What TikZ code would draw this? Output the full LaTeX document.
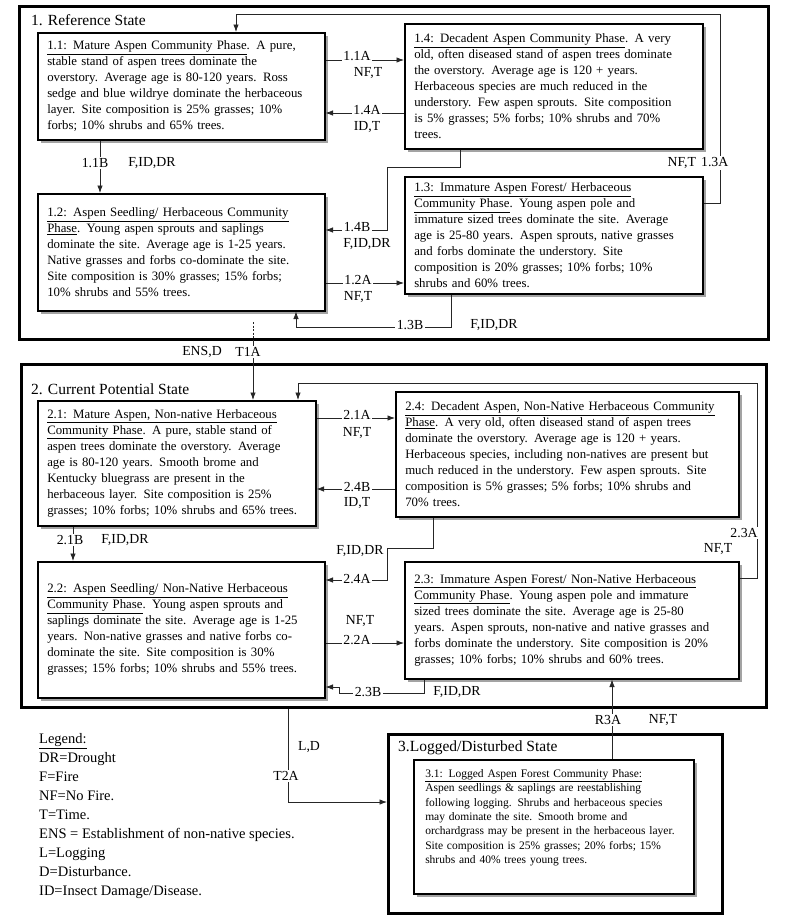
\documentclass[tikz,border=0pt]{standalone}
\usepackage{fontspec}
\setmainfont{Liberation Serif}
\usepackage{tikz}
\usetikzlibrary{arrows.meta,shadows,positioning}

\begin{document}
\begin{tikzpicture}[x=1pt,y=-1pt]

\tikzset{statebox/.style={draw, line width=2.6pt, anchor=north west, inner sep=0pt},
  statetitle/.style={anchor=west, inner sep=0pt, font=\fontsize{15.5}{18}\selectfont},
  phase/.style={draw, line width=1.5pt, fill=white, anchor=north west, align=left,
    inner xsep=9pt, inner ysep=0pt, font=\fontsize{12.8}{16}\selectfont,
    drop shadow={shadow xshift=3pt, shadow yshift=-3pt, fill=black!60, opacity=.6}},
  trans/.style={font=\fontsize{13.8}{15}\selectfont, inner sep=1.5pt},
  cut/.style={trans, fill=white},
  wire/.style={line width=0.8pt, black!85},
  link/.style={wire, -{Latex[length=7.5pt,width=5.5pt]}},
  legend/.style={anchor=north west, align=left, inner sep=0pt, font=\fontsize{14.5}{19}\selectfont}}

\useasboundingbox (0,0) rectangle (800,924);

\node[statebox, minimum width=749pt, minimum height=333pt] (state1) at (18,5) {};
\node[statebox, minimum width=745pt, minimum height=343pt] (state2) at (20,363) {};
\node[statebox, minimum width=334pt, minimum height=179pt] (state3) at (387,733) {};

\node[statetitle] (title1) at (31,20) {1. Reference State};
\node[statetitle] (title2) at (31,389) {2. Current Potential State};
\node[statetitle] (title3) at (398,748) {3.Logged/Disturbed State};

\node[phase, minimum width=287pt, minimum height=107pt, text width=268pt] (b11) at (37,32)
  {\underline{1.1: Mature Aspen Community Phase}. A pure,\\
   stable stand of aspen trees dominate the\\
   overstory. Average age is 80-120 years. Ross\\
   sedge and blue wildrye dominate the herbaceous\\
   layer. Site composition is 25\% grasses; 10\%\\
   forbs; 10\% shrubs and 65\% trees.};
\node[phase, minimum width=298pt, minimum height=125pt, text width=279pt] (b14) at (404,23)
  {\underline{1.4: Decadent Aspen Community Phase}. A very\\
   old, often diseased stand of aspen trees dominate\\
   the overstory. Average age is 120 + years.\\
   Herbaceous species are much reduced in the\\
   understory. Few aspen sprouts. Site composition\\
   is 5\% grasses; 5\% forbs; 10\% shrubs and 70\%\\
   trees.};
\node[phase, minimum width=287pt, minimum height=117pt, text width=268pt] (b12) at (37,193)
  {\underline{1.2: Aspen Seedling/ Herbaceous Community}\\
   \underline{Phase}. Young aspen sprouts and saplings\\
   dominate the site. Average age is 1-25 years.\\
   Native grasses and forbs co-dominate the site.\\
   Site composition is 30\% grasses; 15\% forbs;\\
   10\% shrubs and 55\% trees.};
\node[phase, minimum width=298pt, minimum height=117pt, text width=279pt] (b13) at (404,176)
  {\underline{1.3: Immature Aspen Forest/ Herbaceous}\\
   \underline{Community Phase}. Young aspen pole and\\
   immature sized trees dominate the site. Average\\
   age is 25-80 years. Aspen sprouts, native grasses\\
   and forbs dominate the understory. Site\\
   composition is 20\% grasses; 10\% forbs; 10\%\\
   shrubs and 60\% trees.};

\node[phase, minimum width=278pt, minimum height=125pt, text width=259pt] (b21) at (37,400)
  {\underline{2.1: Mature Aspen, Non-native Herbaceous}\\
   \underline{Community Phase}. A pure, stable stand of\\
   aspen trees dominate the overstory. Average\\
   age is 80-120 years. Smooth brome and\\
   Kentucky bluegrass are present in the\\
   herbaceous layer. Site composition is 25\%\\
   grasses; 10\% forbs; 10\% shrubs and 65\% trees.};
\node[phase, minimum width=343pt, minimum height=125pt, text width=324pt] (b24) at (395,391)
  {\underline{2.4: Decadent Aspen, Non-Native Herbaceous Community}\\
   \underline{Phase}. A very old, often diseased stand of aspen trees\\
   dominate the overstory. Average age is 120 + years.\\
   Herbaceous species, including non-natives are present but\\
   much reduced in the understory. Few aspen sprouts. Site\\
   composition is 5\% grasses; 5\% forbs; 10\% shrubs and\\
   70\% trees.};
\node[phase, minimum width=287pt, minimum height=136pt, text width=268pt] (b22) at (37,561)
  {\underline{2.2: Aspen Seedling/ Non-Native Herbaceous}\\
   \underline{Community Phase}. Young aspen sprouts and\\
   saplings dominate the site. Average age is 1-25\\
   years. Non-native grasses and native forbs co-\\
   dominate the site. Site composition is 30\%\\
   grasses; 15\% forbs; 10\% shrubs and 55\% trees.};
\node[phase, minimum width=334pt, minimum height=117pt, text width=315pt] (b23) at (404,561)
  {\underline{2.3: Immature Aspen Forest/ Non-Native Herbaceous}\\
   \underline{Community Phase}. Young aspen pole and immature\\
   sized trees dominate the site. Average age is 25-80\\
   years. Aspen sprouts, non-native and native grasses and\\
   forbs dominate the understory. Site composition is 20\%\\
   grasses; 10\% forbs; 10\% shrubs and 60\% trees.};

\node[phase, minimum width=280pt, minimum height=134pt, text width=257pt, inner xsep=11pt,
  font=\fontsize{11.5}{14.5}\selectfont] (b31) at (413,759)
  {\underline{3.1: Logged Aspen Forest Community Phase:}\\
   Aspen seedlings \& saplings are reestablishing\\
   following logging. Shrubs and herbaceous species\\
   may dominate the site. Smooth brome and\\
   orchardgrass may be present in the herbaceous layer.\\
   Site composition is 25\% grasses; 20\% forbs; 15\%\\
   shrubs and 40\% trees young trees.\\[6pt]\mbox{}};

\node[legend] (legend) at (39,733)
  {\underline{Legend:}\\
   DR=Drought\\
   F=Fire\\
   NF=No Fire.\\
   T=Time.\\
   ENS = Establishment of non-native species.\\
   L=Logging\\
   D=Disturbance.\\
   ID=Insect Damage/Disease.};

\draw[link] (b11.east |- 0,60) -- (b14.west |- 0,60);
\draw[link] (b14.west |- 0,113) -- (b11.east |- 0,113);
\draw[link] (b11.south -| 100,0) -- (b12.north -| 100,0);
\draw[link] (b14.south -| 460,0) |- (387,167) |- (b12.east |- 0,230);
\draw[link] (b12.east |- 0,283) -- (b13.west |- 0,283);
\draw[link] (b13.south -| 451,0) |- (296,327) -- (b12.south -| 296,0);
\draw[link] (b13.east |- 0,203) -| (720,14) -| (b11.north -| 236,0);

\coordinate (t1top) at (253,322);
\coordinate (t1mid) at (state1.south -| 253,0);
\draw[wire, dash pattern=on 2pt off 1.5pt] (t1top) -- (t1mid);
\draw[link] (t1mid) -- (b21.north -| 253,0);

\draw[link] (b21.east |- 0,418) -- (b24.west |- 0,418);
\draw[link] (b24.west |- 0,489) -- (b21.east |- 0,489);
\draw[link] (b21.south -| 73,0) -- (b22.north -| 73,0);
\draw[link] (b24.south -| 433,0) |- (387,548) |- (b22.east |- 0,580);
\draw[link] (b22.east |- 0,643) -- (b23.west |- 0,643);
\draw[link] (b23.south -| 424,0) |- (339,693) |- (b22.east |- 0,687);
\draw[link] (b23.east |- 0,578) -| (757,383) -| (b21.north -| 298,0);

\draw[link] (state2.south -| 288,0) |- (state3.west |- 0,802);
\draw[link] (b31.north -| 612,0) -- (b23.south -| 612,0);

\node[cut] (l11a) at (357,56) {1.1A};
\node[trans] (l11a2) at (368,73) {NF,T};
\node[cut] (l14a) at (367,110) {1.4A};
\node[trans] (l14a2) at (367,127) {ID,T};
\node[cut] (l11b) at (95,163) {1.1B};
\node[trans] (l11b2) at (152,163) {F,ID,DR};
\node[cut] (l13a) at (698,163) {NF,T\hspace{5pt}1.3A};
\node[cut] (l14b) at (357,227) {1.4B};
\node[trans] (l14b2) at (367,244) {F,ID,DR};
\node[cut] (l12a) at (358,280) {1.2A};
\node[trans] (l12a2) at (358,297) {NF,T};
\node[cut] (l13b) at (410,325) {1.3B};
\node[trans] (l13b2) at (494,325) {F,ID,DR};
\node[trans] (lt1a2) at (202,352) {ENS,D};
\node[cut] (lt1a) at (248,352) {T1A};

\node[cut] (l21a) at (357,415) {2.1A};
\node[trans] (l21a2) at (357,433) {NF,T};
\node[cut] (l24b) at (357,487) {2.4B};
\node[trans] (l24b2) at (357,503) {ID,T};
\node[cut] (l21b) at (70,540) {2.1B};
\node[trans] (l21b2) at (125,540) {F,ID,DR};
\node[trans] (l24a2) at (360,551) {F,ID,DR};
\node[cut] (l24a) at (357,579) {2.4A};
\node[cut] (l23a) at (744,533) {2.3A};
\node[trans] (l23a2) at (718,549) {NF,T};
\node[trans] (l22a2) at (360,621) {NF,T};
\node[cut] (l22a) at (357,640) {2.2A};
\node[cut] (l23b) at (368,692) {2.3B};
\node[trans] (l23b2) at (457,692) {F,ID,DR};

\node[trans] (lt2a2) at (309,747) {L,D};
\node[cut] (lt2a) at (286,776) {T2A};
\node[cut] (lr3a) at (608,720) {R3A};
\node[trans] (lr3a2) at (663,720) {NF,T};

\end{tikzpicture}
\end{document}
